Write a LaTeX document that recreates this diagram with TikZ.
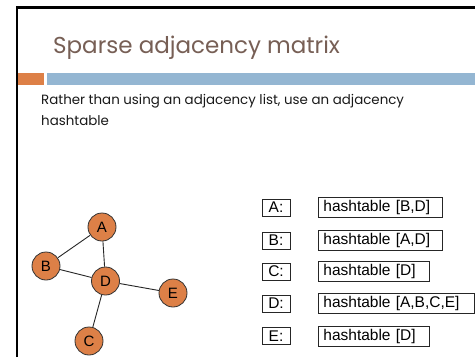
\documentclass[tikz,border=0pt]{standalone}
\usepackage{fontspec}
\setmainfont{Liberation Sans}
\newfontfamily\slidefont{Poppins}
\begin{document}
\begin{tikzpicture}[x=1pt,y=-1pt,
  vertex/.style={circle, draw=black!80, line width=0.8pt, fill=accentorange,
    minimum size=28pt, inner sep=0pt, font=\fontsize{15}{15}\selectfont},
  edge/.style={draw=black!85, line width=0.9pt},
  keybox/.style={draw=black!85, line width=0.8pt, minimum width=28pt,
    minimum height=17pt, inner sep=0pt, font=\fontsize{15.5}{15.5}\selectfont},
  listbox/.style={draw=black!85, line width=0.8pt, anchor=west, minimum height=20pt,
    inner xsep=5pt, inner ysep=0pt, align=left, font=\fontsize{15.5}{15.5}\selectfont},
  bodytext/.style={anchor=base west, inner sep=0pt, text=black!90,
    font=\slidefont\fontsize{13.4}{13.4}\selectfont}]
\definecolor{accentorange}{HTML}{DD8047}
\definecolor{accentblue}{HTML}{94B6D2}
\definecolor{titlebrown}{HTML}{775F55}
\useasboundingbox (0,0) rectangle (475,357);
\fill[white] (0,0) rectangle (475,357);

% slide frame
\draw[line width=2.5pt, black] (17,357) -- (17,7.5) -- (475,7.5);

% title
\node[anchor=base west, inner sep=0pt, text=titlebrown,
  font=\slidefont\fontsize{23}{23}\selectfont] (title) at (53,53) {Sparse adjacency matrix};

% accent bars
\fill[accentorange] (18,73) rectangle (44,85);
\fill[accentblue] (47,73) rectangle (475,85);

% body text
\node[bodytext] (body1) at (41,104) {Rather than using an adjacency list, use an adjacency};
\node[bodytext] (body2) at (41,125) {hashtable};

% graph
\node[vertex] (A) at (102,227) {A};
\node[vertex] (B) at (46,266) {B};
\node[vertex] (D) at (105.5,281) {D};
\node[vertex] (E) at (173,293) {E};
\node[vertex] (C) at (89,341) {C};
\draw[edge] (A) -- (B);
\draw[edge] (A) -- (D);
\draw[edge] (B) -- (D);
\draw[edge] (D) -- (E);
\draw[edge] (D) -- (C);

% adjacency hashtables
\node[keybox] (kA) at (276,207.5) {A:};
\node[keybox] (kB) at (276,240.5) {B:};
\node[keybox] (kC) at (276,271.5) {C:};
\node[keybox] (kD) at (276,303.5) {D:};
\node[keybox] (kE) at (276,336) {E:};
\node[listbox, text width=114pt] (hA) at (318,207.5) {hashtable [B,D]};
\node[listbox, text width=114pt] (hB) at (318,240.5) {hashtable [A,D]};
\node[listbox, text width=101pt] (hC) at (318,271.5) {hashtable [D]};
\node[listbox, text width=146pt] (hD) at (318,303.5) {hashtable [A,B,C,E]};
\node[listbox, text width=101pt] (hE) at (318,336) {hashtable [D]};
\end{tikzpicture}
\end{document}
